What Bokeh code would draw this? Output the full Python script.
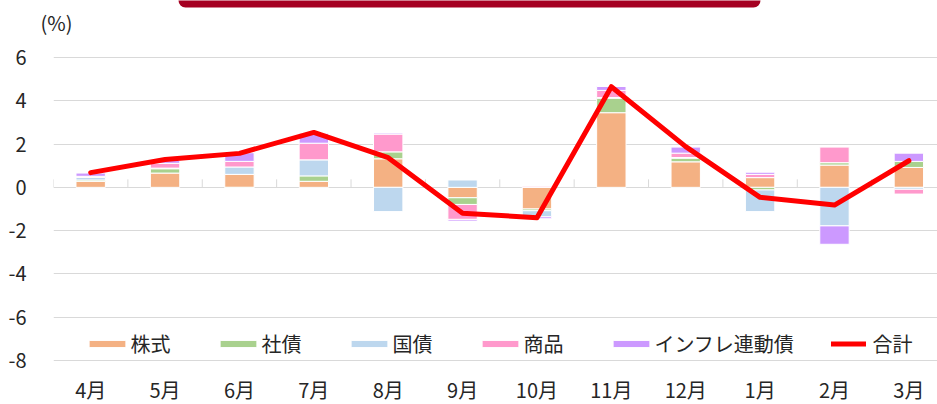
from bokeh.plotting import figure
from bokeh.models import Range1d, FixedTicker, Legend, LegendItem, LinearAxis, BoxAnnotation
from bokeh.embed import file_html
from bokeh.resources import INLINE

months = ["4月", "5月", "6月", "7月", "8月", "9月", "10月", "11月", "12月", "1月", "2月", "3月"]
series_names = ["株式", "社債", "国債", "商品", "インフレ連動債"]
equity = [0.28, 0.66, 0.60, 0.28, 1.32, -0.48, -1.00, 3.45, 1.18, 0.45, 1.03, 0.92]
corp = [0.06, 0.20, -0.03, 0.25, 0.32, -0.31, -0.08, 0.67, 0.17, -0.12, 0.11, 0.28]
govt = [0.12, 0.03, 0.34, 0.74, -1.12, 0.34, -0.28, 0.03, 0.03, -1.00, -1.78, -0.09]
commodity = [0.05, 0.22, 0.26, 0.77, 0.82, -0.69, 0.05, 0.33, 0.20, 0.15, 0.72, -0.22]
linker = [0.15, 0.15, 0.40, 0.46, 0.05, -0.08, -0.09, 0.18, 0.28, 0.10, -0.85, 0.38]
total = [0.68, 1.29, 1.57, 2.54, 1.37, -1.20, -1.40, 4.65, 1.88, -0.46, -0.82, 1.23]
total_name = "合計"
y_ticks = [-8, -6, -4, -2, 0, 2, 4, 6]
unit_label = "(%)"

colors = ["#F4B183", "#A9D18E", "#BDD7EE", "#FF99CC", "#CC99FF"]
FONT = "Noto Sans CJK JP"
TXT = "#262626"
GRID = "#D9D9D9"

n = len(months)
xs = list(range(n))

# pixel geometry of the frame: 21.643 px per unit, 74.38 px per category
PX_Y = 21.643
y_lo = min(y_ticks) - 44 / PX_Y
y_hi = max(y_ticks) + 57 / PX_Y

p = figure(width=937, height=404, output_backend="svg", toolbar_location=None,
           x_range=Range1d(-0.5, 11.385), y_range=Range1d(y_lo, y_hi),
           min_border_left=53, min_border_right=0, min_border_top=0, min_border_bottom=0)
p.outline_line_color = None
p.background_fill_color = "white"
p.xgrid.grid_line_color = None
p.ygrid.ticker = FixedTicker(ticks=y_ticks)
p.ygrid.grid_line_color = GRID
p.ygrid.grid_line_width = 1

ya = p.yaxis[0]
ya.ticker = FixedTicker(ticks=y_ticks)
ya.major_label_overrides = {t: str(t) for t in y_ticks}
ya.axis_line_color = None
ya.major_tick_line_color = None
ya.minor_tick_line_color = None
ya.major_label_standoff = 21
ya.major_label_text_font = FONT
ya.major_label_text_font_size = "20px"
ya.major_label_text_color = TXT

# unit caption "(%)" as an outer left axis with a single labelled tick
unit_y = max(y_ticks) + 35 / PX_Y
ua = LinearAxis(ticker=FixedTicker(ticks=[unit_y]),
                major_label_overrides={unit_y: unit_label})
ua.axis_line_color = None
ua.major_tick_line_color = None
ua.minor_tick_line_color = None
ua.major_label_standoff = -73
ua.major_label_text_font = FONT
ua.major_label_text_font_size = "20px"
ua.major_label_text_color = TXT
p.add_layout(ua, "left")

xa = p.xaxis[0]
xa.fixed_location = min(y_ticks)
xa.ticker = FixedTicker(ticks=xs)
xa.major_label_overrides = {i: m for i, m in enumerate(months)}
xa.axis_line_color = None
xa.major_tick_line_color = None
xa.minor_tick_line_color = None
xa.major_label_standoff = 8
xa.major_label_text_font = FONT
xa.major_label_text_font_size = "20px"
xa.major_label_text_color = TXT

# header banner (cut off at the top edge in the original)
banner = BoxAnnotation(left=125, right=707, bottom=397, top=420,
                       left_units="screen", right_units="screen",
                       bottom_units="screen", top_units="screen",
                       fill_color="#A50021", fill_alpha=1, line_color=None, border_radius=7)
p.add_layout(banner)

# category boundary tick marks on the zero line
bounds = [i - 0.5 for i in range(n + 1)]
tick_len = 8 / PX_Y
p.segment(x0=bounds, y0=[0] * len(bounds), x1=bounds, y1=[tick_len] * len(bounds),
          line_color=GRID, line_width=1)

series = [equity, corp, govt, commodity, linker]
pos = [0.0] * n
neg = [0.0] * n
bar_items = []
for name, vals, col in zip(series_names, series, colors):
    bottoms, tops = [], []
    for i, v in enumerate(vals):
        if v >= 0:
            bottoms.append(pos[i]); tops.append(pos[i] + v); pos[i] += v
        else:
            tops.append(neg[i]); bottoms.append(neg[i] + v); neg[i] += v
    r = p.vbar(x=xs, width=0.395, bottom=bottoms, top=tops,
               fill_color=col, line_color="white", line_width=1)
    bar_items.append(LegendItem(label=name, renderers=[r]))

lr = p.line(xs, total, line_color="#FF0000", line_width=5, line_cap="round", line_join="round")

leg1 = Legend(items=bar_items, orientation="horizontal", location=(31.4, 46),
              glyph_width=46, glyph_height=9, label_standoff=0, spacing=45,
              padding=0, margin=0, border_line_color=None, background_fill_alpha=0,
              label_text_font=FONT, label_text_font_size="20px", label_text_color=TXT)
leg2 = Legend(items=[LegendItem(label=total_name, renderers=[lr])], orientation="horizontal",
              location=(777.5, 46), glyph_width=35, glyph_height=9, label_standoff=7,
              padding=0, margin=0, border_line_color=None, background_fill_alpha=0,
              label_text_font=FONT, label_text_font_size="20px", label_text_color=TXT)
p.add_layout(leg1, "center")
p.add_layout(leg2, "center")

open("out.html", "w").write(file_html(p, INLINE))
